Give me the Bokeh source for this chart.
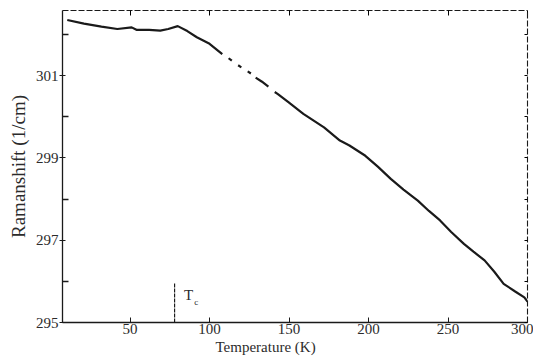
import math
from bokeh.plotting import figure
from bokeh.models import LinearAxis, FixedTicker, Label, Range1d, Title, CustomLabelingPolicy
from bokeh.embed import file_html
from bokeh.resources import INLINE

nan = float("nan")

# Raman shift of the phonon mode versus temperature (NaN marks gaps in the trace)
temperature = [10.5, 21, 32, 42, 51, 54, 62, 69, 74, 80, 86, 92, 100, 108,
               nan, 112, 114, nan, 118, 120, nan, 124, 126, nan, 129, 133, 137,
               nan, 141, 143, 150, 159, 172, 182, 188, 198, 206, 214, 222, 231,
               238, 245, 252, 260, 266, 273, 279, 285, 292, 298, 300]
raman_shift = [302.35, 302.26, 302.19, 302.13, 302.17, 302.11, 302.11, 302.09,
               302.13, 302.20, 302.08, 301.93, 301.77, 301.52,
               nan, 301.42, 301.36, nan, 301.25, 301.20, nan, 301.10, 301.05,
               nan, 300.95, 300.85, 300.73,
               nan, 300.60, 300.55, 300.34, 300.07, 299.74, 299.42, 299.30,
               299.05, 298.78, 298.49, 298.23, 297.96, 297.71, 297.48, 297.20,
               296.91, 296.72, 296.51, 296.24, 295.94, 295.76, 295.61, 295.51]

x_ticks = [50, 100, 150, 200, 250, 300]
y_ticks = [295, 297, 299, 301]
y_minor = [296, 298, 300, 302]
tc_temperature = 78
tc_marker_top = 295.95

FONT = "Liberation Serif"
INK = "#1a1a1a"
TEXT = "#2b2b2b"

p = figure(width=533, height=356, output_backend="svg", toolbar_location=None,
           x_range=Range1d(7.5, 300), y_range=Range1d(295, 302.58),
           min_border_left=62, min_border_right=6, min_border_top=10,
           min_border_bottom=34)
p.outline_line_color = None
p.grid.grid_line_color = None
p.background_fill_color = "white"
p.border_fill_color = "white"

# bottom axis
xa = p.xaxis[0]
xa.ticker = FixedTicker(ticks=x_ticks)
xa.axis_line_color = INK
xa.axis_line_width = 1.3
xa.major_tick_in = 5
xa.major_tick_out = 0
xa.minor_tick_line_color = None
xa.major_tick_line_color = INK
xa.major_label_standoff = 1
xa.major_label_text_font = FONT
xa.major_label_text_font_size = "15px"
xa.major_label_text_color = TEXT

# left axis
ya = p.yaxis[0]
ya.ticker = FixedTicker(ticks=y_ticks, minor_ticks=y_minor)
ya.axis_line_color = INK
ya.axis_line_width = 1.3
ya.major_tick_in = 3
ya.major_tick_out = 3
ya.minor_tick_in = 6
ya.minor_tick_out = 0
ya.major_tick_line_color = INK
ya.minor_tick_line_color = INK
ya.minor_tick_line_width = 1.3
ya.major_label_standoff = 1
ya.major_label_text_font = FONT
ya.major_label_text_font_size = "15px"
ya.major_label_text_color = TEXT

# top and right frame axes: ticks only, no labels and no space reserved for them
top = LinearAxis(ticker=FixedTicker(ticks=x_ticks),
                 major_label_policy=CustomLabelingPolicy(code="return []"),
                 major_label_text_font_size="0px",
                 axis_line_color=INK, axis_line_dash="6 2", axis_line_width=1.1,
                 major_tick_in=5, major_tick_out=0, minor_tick_line_color=None,
                 major_label_standoff=0)
right = LinearAxis(ticker=FixedTicker(ticks=y_ticks + y_minor),
                   major_label_policy=CustomLabelingPolicy(code="return []"),
                   major_label_text_font_size="0px",
                   axis_line_color=INK, axis_line_dash="6 2", axis_line_width=1.1,
                   major_tick_in=3, major_tick_out=0, minor_tick_line_color=None,
                   major_label_standoff=0)
p.add_layout(top, "above")
p.add_layout(right, "right")

# measured curve
p.line(temperature, raman_shift, line_color=INK, line_width=2.2)

# Tc marker
p.segment(x0=[tc_temperature], y0=[295], x1=[tc_temperature], y1=[tc_marker_top],
          line_color=INK, line_width=1.2, line_dash="4 1")
p.add_layout(Label(x=84, y=295.68, text="T", text_font=FONT, text_font_size="15px",
                   text_color=TEXT, text_baseline="middle"))
p.add_layout(Label(x=90.3, y=295.5, text="c", text_font=FONT, text_font_size="9px",
                   text_color=TEXT, text_baseline="middle"))

# axis titles
p.add_layout(Title(text="Temperature (K)", align="left", offset=153, standoff=0,
                   text_font=FONT, text_font_size="15px", text_font_style="normal",
                   text_color=TEXT), "below")
p.add_layout(Title(text="Ramanshift (1/cm)", align="center", offset=-2, standoff=7,
                   text_font=FONT, text_font_size="19px", text_font_style="normal",
                   text_color=TEXT), "left")

open("out.html", "w").write(file_html(p, INLINE))
